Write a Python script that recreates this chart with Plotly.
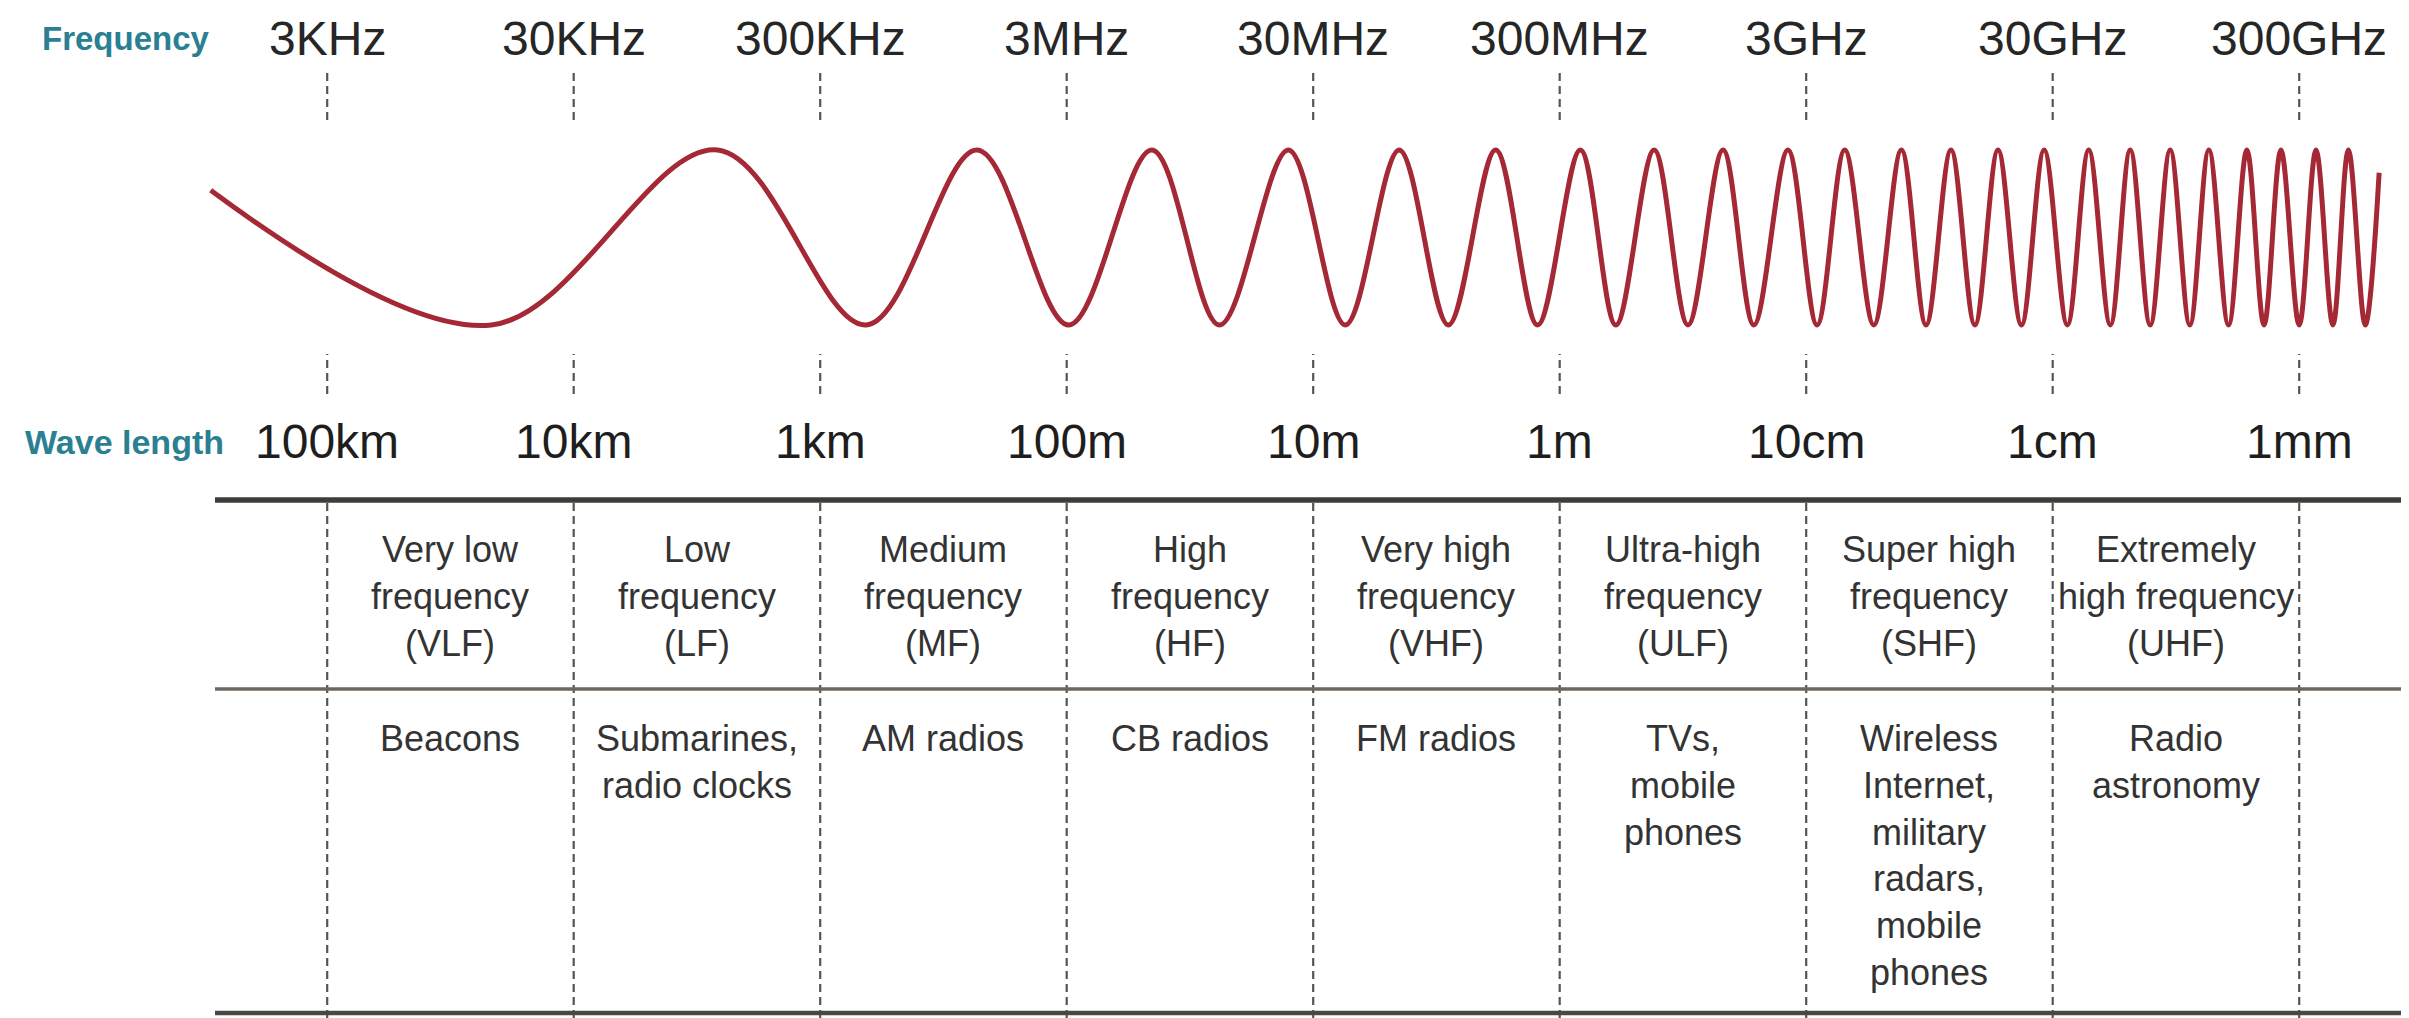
import numpy as np
import plotly.graph_objects as go

# ---------------- data ----------------
freq_ticks_hz = [3e3, 3e4, 3e5, 3e6, 3e7, 3e8, 3e9, 3e10, 3e11]
freq_labels = ["3KHz", "30KHz", "300KHz", "3MHz", "30MHz", "300MHz", "3GHz", "30GHz", "300GHz"]
wavelength_labels = ["100km", "10km", "1km", "100m", "10m", "1m", "10cm", "1cm", "1mm"]

band_names = [
    "Very low<br>frequency<br>(VLF)",
    "Low<br>frequency<br>(LF)",
    "Medium<br>frequency<br>(MF)",
    "High<br>frequency<br>(HF)",
    "Very high<br>frequency<br>(VHF)",
    "Ultra-high<br>frequency<br>(ULF)",
    "Super high<br>frequency<br>(SHF)",
    "Extremely<br>high frequency<br>(UHF)",
]
band_uses = [
    "Beacons",
    "Submarines,<br>radio clocks",
    "AM radios",
    "CB radios",
    "FM radios",
    "TVs,<br>mobile<br>phones",
    "Wireless<br>Internet,<br>military<br>radars,<br>mobile<br>phones",
    "Radio<br>astronomy",
]

# wave: positions (Hz) of start point, successive troughs/peaks, end point
wave_freq_hz = [
    1.01e3, 1.39e4, 1.15e5, 4.61e5, 1.30e6, 3.06e6, 6.65e6, 1.25e7, 2.38e7,
    4.05e7, 6.70e7, 1.06e8, 1.65e8, 2.44e8, 3.64e8, 5.07e8, 7.25e8, 9.94e8,
    1.38e9, 1.84e9, 2.53e9, 3.32e9, 4.30e9, 5.64e9, 7.30e9, 9.19e9, 1.16e10,
    1.45e10, 1.80e10, 2.24e10, 2.77e10, 3.44e10, 4.20e10, 5.14e10, 6.19e10,
    7.46e10, 8.99e10, 1.08e11, 1.29e11, 1.55e11, 1.84e11, 2.16e11, 2.53e11,
    3.00e11, 3.51e11, 4.11e11, 4.75e11, 5.56e11, 6.33e11,
]
wave_level = [
    0.54, -1, 1, -1, 1, -1, 1, -1, 1,
    -1, 1, -1, 1, -1, 1, -1, 1, -1,
    1, -1, 1, -1, 1, -1, 1, -1, 1,
    -1, 1, -1, 1, -1, 1, -1, 1,
    -1, 1, -1, 1, -1, 1, -1, 1,
    -1, 1, -1, 1, -1, 0.74,
]

# ---------------- layout helpers ----------------
# the page body has an 8px margin; the figure fills the rest of the window
OFF = 8
W, H = 2409 - OFF, 1018 - OFF


def px(rx):
    return (rx - OFF) / W


def py(ry):
    return 1 - (ry - OFF) / H


FONT = "Liberation Sans, Arial, Helvetica, sans-serif"
TEAL = "#2b7f93"
DASH_COL = "#555555"

# x axis: 3 kHz tick at window x=327, 246.5 px per decade
PX_PER_DEC = 246.5
x_min = np.log10(freq_ticks_hz[0]) - (327.2 - OFF) / PX_PER_DEC
x_max = x_min + W / PX_PER_DEC

fig = go.Figure()

fig.add_trace(go.Scatter(
    x=wave_freq_hz, y=wave_level, mode="lines",
    line=dict(color="#a52835", width=5, shape="spline", smoothing=1.0),
    xaxis="x", yaxis="y2", hoverinfo="skip", showlegend=False,
))

# dashed vertical markers (top ticks, lower ticks, table dividers)
segments = [(py(120), py(73)), (py(394), py(354)), (0.0, py(500))]
for f in freq_ticks_hz:
    for y0, y1 in segments:
        fig.add_trace(go.Scatter(
            x=[f, f], y=[y0, y1], mode="lines",
            line=dict(color=DASH_COL, width=2.2, dash="8px,5px"),
            xaxis="x", yaxis="y", hoverinfo="skip", showlegend=False,
        ))

shapes = [
    dict(type="line", xref="paper", yref="paper", x0=px(215), x1=px(2404), y0=py(500), y1=py(500),
         line=dict(color="#3f3d39", width=5.5)),
    dict(type="line", xref="paper", yref="paper", x0=px(215), x1=px(2404), y0=py(689), y1=py(689),
         line=dict(color="#6d675f", width=3.5)),
    dict(type="line", xref="paper", yref="paper", x0=px(215), x1=px(2404), y0=py(1013), y1=py(1013),
         line=dict(color="#4a4844", width=4.5)),
]

ann = []
ann.append(dict(text="<b>Frequency</b>", x=px(126), y=py(38), xref="paper", yref="paper",
                xanchor="center", yanchor="middle",
                showarrow=False, font=dict(family=FONT, size=33, color=TEAL)))
ann.append(dict(text="<b>Wave length</b>", x=px(124), y=py(442), xref="paper", yref="paper",
                xanchor="center", yanchor="middle",
                showarrow=False, font=dict(family=FONT, size=34, color=TEAL)))

for f, lab in zip(freq_ticks_hz, freq_labels):
    ann.append(dict(text=lab, x=np.log10(f), y=py(38), xref="x", yref="paper",
                    xanchor="center", yanchor="middle",
                    showarrow=False, font=dict(family=FONT, size=48, color="#262626")))
for f, lab in zip(freq_ticks_hz, wavelength_labels):
    ann.append(dict(text=lab, x=np.log10(f), y=py(442), xref="x", yref="paper",
                    xanchor="center", yanchor="middle",
                    showarrow=False, font=dict(family=FONT, size=48, color="#1e1e1e")))

for i, (name, use) in enumerate(zip(band_names, band_uses)):
    xc = (np.log10(freq_ticks_hz[i]) + np.log10(freq_ticks_hz[i + 1])) / 2
    ann.append(dict(text=name, x=xc, y=py(596), xref="x", yref="paper",
                    xanchor="center", yanchor="middle",
                    showarrow=False, font=dict(family=FONT, size=36, color="#333333")))
    ann.append(dict(text=use, x=xc, y=py(716), xref="x", yref="paper",
                    xanchor="center", yanchor="top",
                    showarrow=False, font=dict(family=FONT, size=36, color="#333333")))

# wave band: peak centre at window y=150, trough centre at y=325
wave_c, wave_amp = (150 + 325) / 2, (325 - 150) / 2
half = 1.1 * wave_amp
fig.update_layout(
    width=W, height=H,
    margin=dict(l=0, r=0, t=0, b=0),
    paper_bgcolor="white", plot_bgcolor="white",
    showlegend=False,
    xaxis=dict(type="log", range=[x_min, x_max], visible=False, domain=[0, 1], anchor="y"),
    yaxis=dict(range=[0, 1], visible=False, domain=[0, 1], anchor="x"),
    yaxis2=dict(range=[-1.1, 1.1], visible=False,
                domain=[py(wave_c + half), py(wave_c - half)], anchor="x"),
    shapes=shapes,
    annotations=ann,
)

fig.write_html("out.html")
